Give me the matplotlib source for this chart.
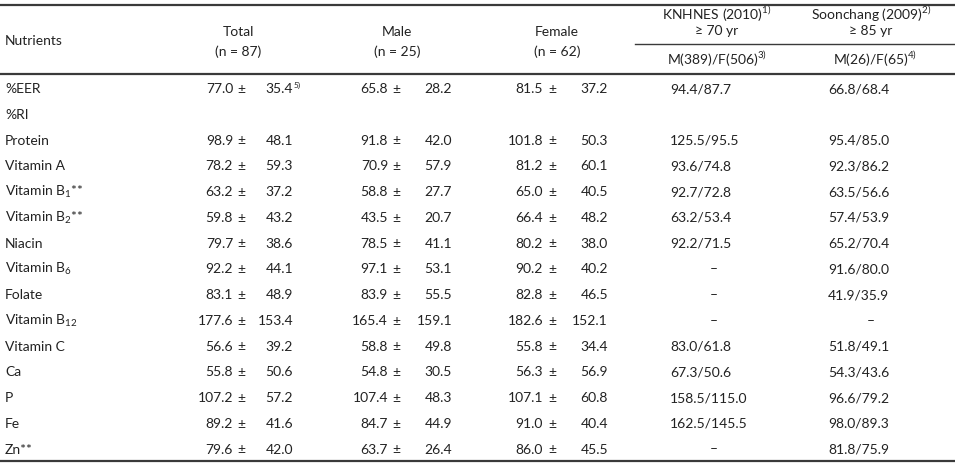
import matplotlib
matplotlib.use('Agg')
import matplotlib.pyplot as plt

plt.rcParams['font.family'] = ['Lato', 'DejaVu Sans']
plt.rcParams['mathtext.fontset'] = 'custom'
plt.rcParams['mathtext.rm'] = 'Lato'

# table data
nutrients = ['%EER', '%RI', 'Protein', 'Vitamin A', 'Vitamin B$_{\\mathrm{1}}$**',
             'Vitamin B$_{\\mathrm{2}}$**', 'Niacin', 'Vitamin B$_{\\mathrm{6}}$', 'Folate',
             'Vitamin B$_{\\mathrm{12}}$', 'Vitamin C', 'Ca', 'P', 'Fe', 'Zn**']
total_mean = [77.0, None, 98.9, 78.2, 63.2, 59.8, 79.7, 92.2, 83.1, 177.6, 56.6, 55.8, 107.2, 89.2, 79.6]
total_sd = [35.4, None, 48.1, 59.3, 37.2, 43.2, 38.6, 44.1, 48.9, 153.4, 39.2, 50.6, 57.2, 41.6, 42.0]
male_mean = [65.8, None, 91.8, 70.9, 58.8, 43.5, 78.5, 97.1, 83.9, 165.4, 58.8, 54.8, 107.4, 84.7, 63.7]
male_sd = [28.2, None, 42.0, 57.9, 27.7, 20.7, 41.1, 53.1, 55.5, 159.1, 49.8, 30.5, 48.3, 44.9, 26.4]
female_mean = [81.5, None, 101.8, 81.2, 65.0, 66.4, 80.2, 90.2, 82.8, 182.6, 55.8, 56.3, 107.1, 91.0, 86.0]
female_sd = [37.2, None, 50.3, 60.1, 40.5, 48.2, 38.0, 40.2, 46.5, 152.1, 34.4, 56.9, 60.8, 40.4, 45.5]
knhnes = ['94.4/87.7', '', '125.5/95.5', '93.6/74.8', '92.7/72.8', '63.2/53.4', '92.2/71.5',
          '–', '–', '–', '83.0/61.8', '67.3/50.6', '158.5/115.0', '162.5/145.5', '–']
soonchang = ['66.8/68.4', '', '95.4/85.0', '92.3/86.2', '63.5/56.6', '57.4/53.9', '65.2/70.4',
             '91.6/80.0', '41.9/35.9', '–', '51.8/49.1', '54.3/43.6', '96.6/79.2', '98.0/89.3', '81.8/75.9']
sd_notes = {0: '5)'}

fig = plt.figure(figsize=(9.55, 4.65), dpi=100)
ax = fig.add_axes([0, 0, 1, 1])
ax.set_xlim(0, 955)
ax.set_ylim(465, 0)
ax.axis('off')

fs = 10
col = '#222222'
lc = '#3a3a3a'

# rules
ax.plot([0, 955], [5, 5], color=lc, lw=1.6)
ax.plot([635, 955], [44, 44], color=lc, lw=1.0)
ax.plot([0, 955], [74, 74], color=lc, lw=1.6)
ax.plot([0, 955], [461, 461], color=lc, lw=1.6)

# header
ax.text(5, 41, 'Nutrients', fontsize=fs, color=col, ha='left', va='center')
for cx, name, n in [(238, 'Total', 87), (397, 'Male', 25), (557, 'Female', 62)]:
    ax.text(cx, 32, name, fontsize=fs, color=col, ha='center', va='center')
    ax.text(cx, 52, '(n = %d)' % n, fontsize=fs, color=col, ha='center', va='center')
ax.text(717, 14, 'KNHNES (2010)$^{\\mathrm{1)}}$', fontsize=fs, color=col, ha='center', va='center')
ax.text(717, 31, '≥ 70 yr', fontsize=fs, color=col, ha='center', va='center')
ax.text(717, 59, 'M(389)/F(506)$^{\\mathrm{3)}}$', fontsize=fs, color=col, ha='center', va='center')
ax.text(871, 14, 'Soonchang (2009)$^{\\mathrm{2)}}$', fontsize=fs, color=col, ha='center', va='center')
ax.text(871, 31, '≥ 85 yr', fontsize=fs, color=col, ha='center', va='center')
ax.text(875, 59, 'M(26)/F(65)$^{\\mathrm{4)}}$', fontsize=fs, color=col, ha='center', va='center')

# body
y0, dy = 89, 25.75
groups = [(total_mean, total_sd, 233, 241, 293),
          (male_mean, male_sd, 388, 396, 452),
          (female_mean, female_sd, 543, 552, 608)]
for i, name in enumerate(nutrients):
    y = y0 + i * dy
    ax.text(5, y, name, fontsize=fs, color=col, ha='left', va='center')
    for means, sds, xm, xpm, xsd in groups:
        if means[i] is None:
            continue
        ax.text(xm, y, '%.1f' % means[i], fontsize=fs, color=col, ha='right', va='center')
        ax.text(xpm, y, '±', fontsize=fs, color=col, ha='center', va='center')
        ax.text(xsd, y, '%.1f' % sds[i], fontsize=fs, color=col, ha='right', va='center')
        if means is total_mean and i in sd_notes:
            ax.text(xsd + 1, y - 4, sd_notes[i], fontsize=6, color=col, ha='left', va='center')
    for vals, xl, xc in [(knhnes, 670, 714), (soonchang, 828, 871)]:
        v = vals[i]
        if v == '–':
            ax.text(xc, y, v, fontsize=fs, color=col, ha='center', va='center')
        elif v:
            ax.text(xl, y, v, fontsize=fs, color=col, ha='left', va='center')

fig.savefig('out.png', dpi=100)
